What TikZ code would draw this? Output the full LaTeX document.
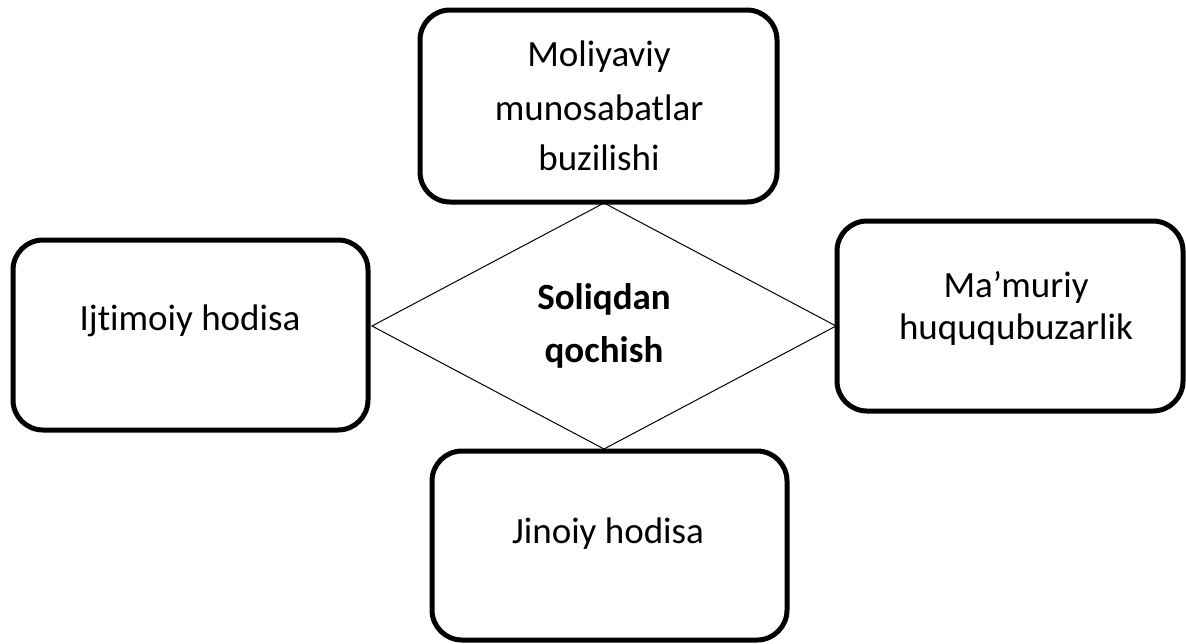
\documentclass[tikz,border=0pt]{standalone}
\usepackage{fontspec}
\setmainfont{Carlito}[Ligatures={NoCommon,NoRare,NoContextual}]
\usetikzlibrary{shapes.geometric}
\begin{document}
\begin{tikzpicture}[x=0.5pt,y=-0.5pt,
  box/.style={draw, line width=2.5pt, rounded corners=15pt, rectangle,
    inner sep=0pt, outer sep=0pt},
  txt/.style={font=\fontsize{18.5pt}{26pt}\selectfont, inner sep=0pt, anchor=base},
  centre/.style={draw, line width=0.5pt, diamond, inner sep=0pt, outer sep=0pt,
    align=center, font=\fontsize{18.5pt}{26.5pt}\selectfont\bfseries}]
\useasboundingbox (0,0) rectangle (1186,643);

% four outer boxes
\node[box, minimum width=178.5pt, minimum height=96pt] (top) at (598.5,106) {};
\node[box, minimum width=177.5pt, minimum height=95pt] (left) at (190.5,335) {};
\node[box, minimum width=173pt, minimum height=95pt] (right) at (1010,316) {};
\node[box, minimum width=177.5pt, minimum height=94.5pt] (bottom) at (609.5,545.5) {};

% central diamond
\node[centre, minimum width=232pt, minimum height=123pt] (core) at (604,326)
  {Soliqdan\\qochish};

% box texts
\node[txt] (top1) at (599,66) {Moliyaviy};
\node[txt] (top2) at (599,120) {munosabatlar};
\node[txt] (top3) at (599,170) {buzilishi};
\node[txt] (left1) at (190,330) {Ijtimoiy hodisa};
\node[txt] (right1) at (1016,297) {Ma’muriy};
\node[txt] (right2) at (1016,339) {huququbuzarlik};
\node[txt] (bottom1) at (608,543) {Jinoiy hodisa};
\end{tikzpicture}
\end{document}
